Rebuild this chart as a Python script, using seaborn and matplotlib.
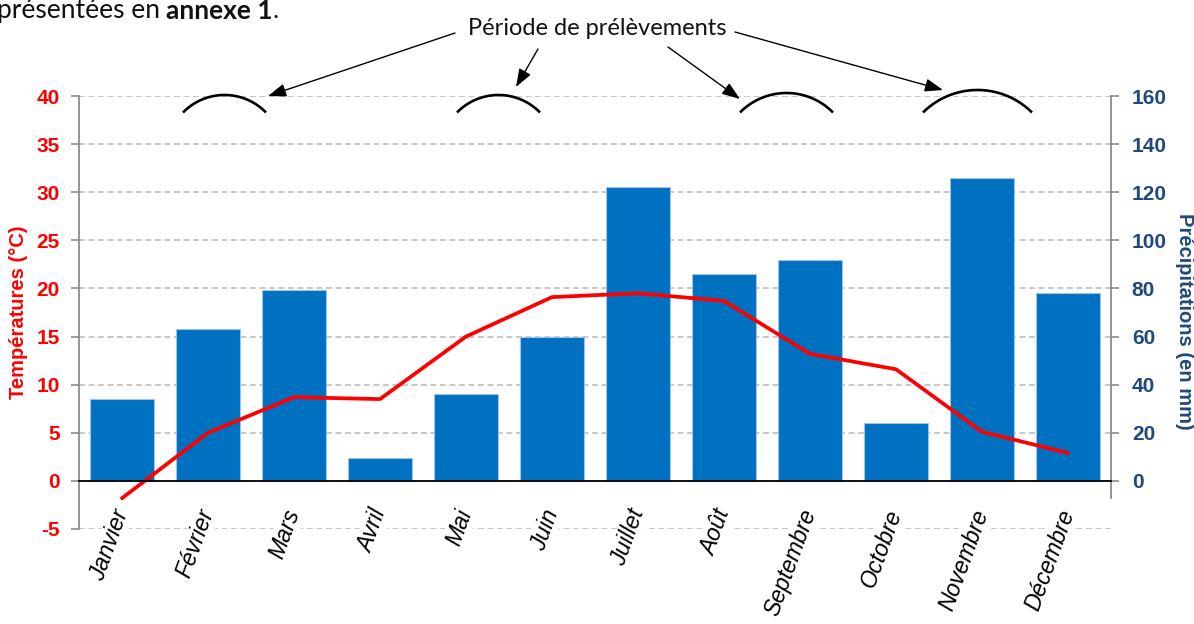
import numpy as np
import pandas as pd
import matplotlib
matplotlib.use("Agg")
import matplotlib.pyplot as plt
import seaborn as sns

# Monthly climate data
months = ["Janvier", "Février", "Mars", "Avril", "Mai", "Juin", "Juillet",
          "Août", "Septembre", "Octobre", "Novembre", "Décembre"]
precipitations_mm = [34, 63, 79.5, 9.5, 36, 60, 122, 86, 92, 24, 126, 78]
temperatures_c = [-1.8, 5.0, 8.7, 8.5, 15.0, 19.1, 19.5, 18.7, 13.2, 11.6, 5.1, 2.9]
temp_ticks = [-5, 0, 5, 10, 15, 20, 25, 30, 35, 40]
precip_ticks = [0, 20, 40, 60, 80, 100, 120, 140, 160]

BAR_BLUE = "#0070C0"
RED = "#FF0000"
NAVY = "#1F497D"
AXIS_GREY = "#8C8C8C"
GRID_GREY = "#BEBEBE"

sns.set_theme(style="ticks")
plt.rcParams["font.family"] = ["Liberation Sans", "DejaVu Sans"]

W, H = 1194, 624
fig = plt.figure(figsize=(W / 100, H / 100), dpi=100, facecolor="white")
ax_t = fig.add_axes([79 / W, 1 - 529 / H, (1111 - 79) / W, 433 / H])
ax_p = ax_t.twinx()
ax_t.set_zorder(ax_p.get_zorder() + 1)
ax_t.patch.set_visible(False)

df = pd.DataFrame({"mois": months, "pos": np.arange(len(months)),
                   "precip": precipitations_mm, "temp": temperatures_c})

# Precipitation bars (right axis)
sns.barplot(data=df, x="mois", y="precip", ax=ax_p, color=BAR_BLUE,
            saturation=1, width=0.745, edgecolor="#9DC3E6", linewidth=0.8)
# Temperature curve (left axis)
sns.lineplot(data=df, x="pos", y="temp", ax=ax_t, color=RED, linewidth=2.7)

# Right axis: precipitation
ax_p.set_ylim(-20, 160)
ax_p.set_yticks(precip_ticks, labels=[str(v) for v in precip_ticks],
                fontweight="bold", fontsize=15, color=NAVY)
ax_p.tick_params(axis="y", right=True, direction="out", length=6, width=1.2,
                 color=AXIS_GREY, pad=9)
ax_p.grid(True, axis="y", color=GRID_GREY, linestyle=(0, (3.5, 2.2)), linewidth=1.2)
ax_p.axhline(-20, color=GRID_GREY, linestyle=(0, (3.5, 2.2)), linewidth=1.2, zorder=0)
ax_p.set_axisbelow(True)
for side in ("top", "left", "bottom"):
    ax_p.spines[side].set_visible(False)
ax_p.spines["right"].set_color(AXIS_GREY)
ax_p.spines["right"].set_linewidth(1.3)
ax_p.spines["right"].set_bounds(-7, 160)
ax_p.set_ylabel("Précipitations (en mm)", rotation=270, va="center",
                color=NAVY, fontweight="bold", fontsize=14.5)
ax_p.yaxis.set_label_coords(1.0717, 0.48)
ax_p.set_xlabel("")

# Left axis: temperature
ax_t.set_ylim(-5, 40)
ax_t.set_yticks(temp_ticks, labels=[str(v) for v in temp_ticks],
                fontweight="bold", fontsize=15, color=RED)
ax_t.tick_params(axis="y", left=True, direction="out", length=6, width=1.2,
                 color=AXIS_GREY, pad=8)
ax_t.set_ylabel("Températures (°C)", va="center", color=RED,
                fontweight="bold", fontsize=14.5)
ax_t.yaxis.set_label_coords(-0.059, 0.5)
ax_t.spines["top"].set_visible(False)
ax_t.spines["right"].set_visible(False)
ax_t.spines["left"].set_color(AXIS_GREY)
ax_t.spines["left"].set_linewidth(1.3)
ax_t.spines["bottom"].set_position(("data", 0))
ax_t.spines["bottom"].set_color("black")
ax_t.spines["bottom"].set_linewidth(1.3)

# Month labels along the zero line
ax_t.set_xlim(-0.5, len(months) - 0.5)
ax_t.set_xticks(np.arange(len(months)))
ax_t.set_xticklabels(months, rotation=70, ha="right", va="center",
                     rotation_mode="anchor", fontstyle="italic",
                     fontsize=16.5, color="black")
ax_t.tick_params(axis="x", bottom=True, length=0, pad=21)
for lbl in ax_t.get_xticklabels():
    lbl.set_bbox(dict(facecolor="white", edgecolor="none", pad=1))
ax_t.set_xlabel("")

# Annotation layer in pixel coordinates
ov = fig.add_axes([0, 0, 1, 1])
ov.set_xlim(0, W)
ov.set_ylim(H, 0)
ov.axis("off")
ov.patch.set_visible(False)
ov.set_zorder(10)

# Sampling-period arcs: (left x, right x, peak y, end y)
arcs = [(183, 266, 95, 112.5), (457, 540, 95, 112.5),
        (740, 833, 93, 112.5), (923, 1032, 90, 112.5)]
for x0, x1, ypk, yend in arcs:
    half = (x1 - x0) / 2
    sag = yend - ypk
    r = (half ** 2 + sag ** 2) / (2 * sag)
    t0 = np.arcsin(half / r)
    t = np.linspace(-t0, t0, 60)
    cx, cy = (x0 + x1) / 2, ypk + r
    ov.plot(cx + r * np.sin(t), cy - r * np.cos(t), color="black",
            linewidth=1.9, solid_capstyle="butt")

# Arrows from the caption to each arc
arrows = [((455, 33), (268, 96)), ((538, 49), (516, 87)),
          ((668, 47), (740, 99)), ((735, 32), (943, 90))]
for start, tip in arrows:
    ov.annotate("", xy=tip, xytext=start,
                arrowprops=dict(arrowstyle="-|>,head_length=1.1,head_width=0.4",
                                color="black", lw=1.0, shrinkA=0, shrinkB=0,
                                mutation_scale=10))

ov.text(597, 35, "Période de prélèvements", ha="center", va="baseline",
        fontsize=17, family=["Lato", "DejaVu Sans"], color="#111111")

t1 = ov.text(-3, 18, "présentées en", ha="left", va="baseline",
             fontsize=19, family=["Lato", "DejaVu Sans"], color="#111111")
t2 = ov.annotate("annexe 1", xy=(1, 0), xycoords=t1, xytext=(4.5, 0),
                 textcoords="offset points", ha="left", va="bottom",
                 fontsize=19, fontweight="bold", family=["Lato", "DejaVu Sans"],
                 color="#111111")
ov.annotate(".", xy=(1, 0), xycoords=t2, ha="left", va="bottom",
            fontsize=19, family=["Lato", "DejaVu Sans"], color="#111111")

fig.savefig("out.png", dpi=100, facecolor="white")
